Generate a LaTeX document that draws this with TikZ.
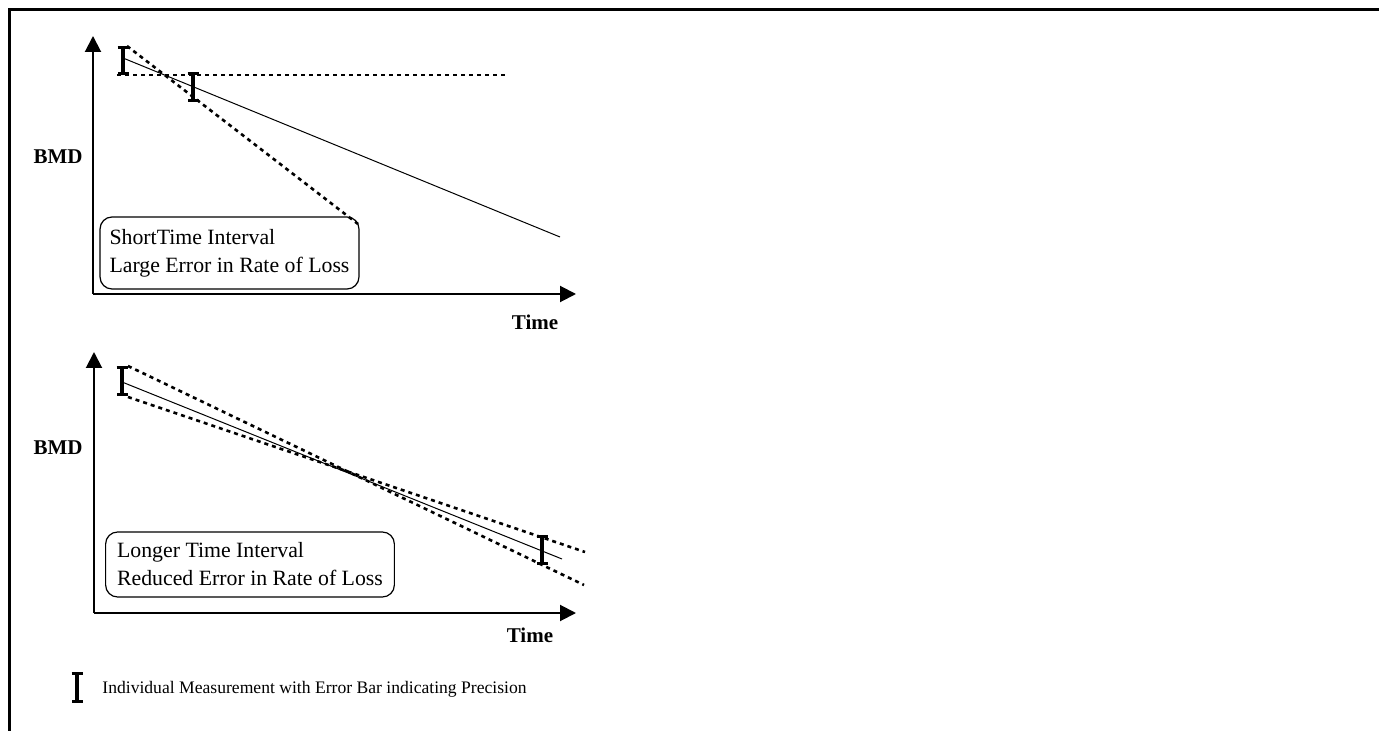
\documentclass[tikz,border=0pt]{standalone}
\usepackage{fontspec}
\setmainfont{Liberation Serif}
\usetikzlibrary{arrows.meta}

\begin{document}
\begin{tikzpicture}[x=0.5pt, y=-0.5pt,
	axis/.style={line width=1pt, -{Triangle[length=8pt,width=8pt]}},
	errbar/.style={line width=1.6pt, {Bar[width=5.5pt]}-{Bar[width=5.5pt]}},
	fitline/.style={line width=0.5pt},
	dotline/.style={line width=1.3pt, dash pattern=on 2pt off 2pt},
	note/.style={draw, rounded corners=6pt, line width=0.6pt, align=left, font=\fontsize{10.9}{14}\selectfont},
	lbl/.style={font=\fontsize{10.5}{12}\selectfont\bfseries}]
	\useasboundingbox (0,0) rectangle (1379,731);
	\draw[line width=1.5pt] (8,10) -- (1379,10);
	\draw[line width=1.5pt] (9,10) -- (9,731);
	% short interval
	\coordinate (oA) at (93,294);
	\draw[axis] (oA) -- (93,36);
	\draw[axis] (oA) -- (576,294);
	\node[lbl] (bmdA) at (58,157) {BMD};
	\node[lbl] (timeA) at (535,322) {Time};
	\coordinate (a1t) at (123,46);
	\coordinate (a1b) at (123,75);
	\coordinate (a2t) at (193,72);
	\coordinate (a2b) at (193,102);
	\draw[errbar] (a1t) -- (a1b);
	\draw[errbar] (a2t) -- (a2b);
	\draw[fitline] (123,58) -- (560,237);
	\draw[dotline] (127,46) -- (358,224);
	\draw[dotline] (117,75) -- (507,75);
	\node[note, inner xsep=4.75pt, minimum height=36pt] (noteA) at (229.5,253)
		{ShortTime Interval\\Large Error in Rate of Loss};
	% longer interval
	\coordinate (oB) at (94,613);
	\draw[axis] (oB) -- (94,352);
	\draw[axis] (oB) -- (576,613);
	\node[lbl] (bmdB) at (58,448) {BMD};
	\node[lbl] (timeB) at (530,635) {Time};
	\coordinate (b1t) at (122,366);
	\coordinate (b1b) at (122,396);
	\coordinate (b2t) at (542,535);
	\coordinate (b2b) at (542,565);
	\draw[errbar] (b1t) -- (b1b);
	\draw[errbar] (b2t) -- (b2b);
	\draw[fitline] (122,382) -- (562,559);
	\draw[dotline] (128,366) -- (584,585);
	\draw[dotline] (128,397) -- (585,552);
	\node[note, inner xsep=5.75pt, minimum height=32.5pt] (noteB) at (250,564.5)
		{Longer Time Interval\\Reduced Error in Rate of Loss};
	% legend
	\draw[errbar] (77,672) coordinate (keyT) -- (77,703) coordinate (keyB);
	\node[anchor=west, inner sep=0pt, font=\fontsize{8.8}{11}\selectfont] (keyText) at (102,689)
		{Individual Measurement with Error Bar indicating Precision};
\end{tikzpicture}
\end{document}
